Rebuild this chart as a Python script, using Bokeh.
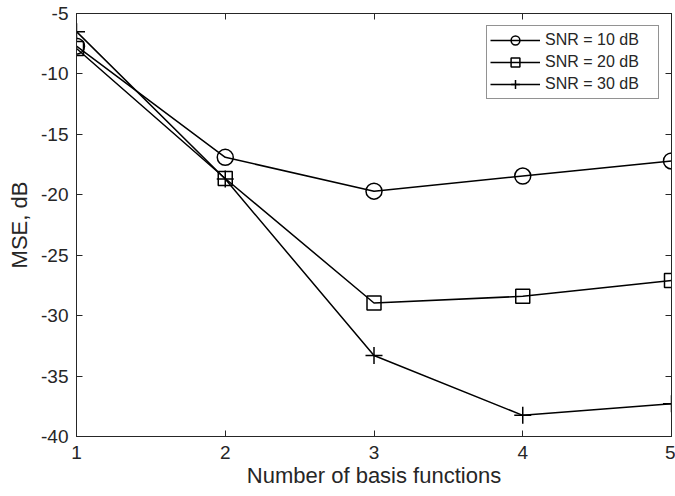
from bokeh.plotting import figure
from bokeh.models import Range1d, LinearAxis, FixedTicker, Legend
from bokeh.embed import file_html
from bokeh.resources import INLINE

# data
num_basis = [1, 2, 3, 4, 5]
snr10 = [-7.7, -16.9, -19.7, -18.45, -17.2]
snr20 = [-7.9, -18.65, -28.95, -28.4, -27.1]
snr30 = [-6.5, -18.7, -33.3, -38.25, -37.3]
labels = ["SNR = 10 dB", "SNR = 20 dB", "SNR = 30 dB"]
x_ticks = [1, 2, 3, 4, 5]
y_ticks = [-40, -35, -30, -25, -20, -15, -10, -5]
y_tick_labels = ["-40", "-35", "-30", "-25", "-20", "-15", "-10", "-5"]

AX = "#262626"
FONT = "Liberation Sans"

p = figure(width=675, height=496, output_backend="svg", toolbar_location=None,
           x_range=Range1d(1, 5), y_range=Range1d(-40, -5),
           min_border_left=76, min_border_right=4, min_border_top=13, min_border_bottom=60)
p.background_fill_color = "white"
p.border_fill_color = "white"
p.outline_line_color = AX
p.outline_line_width = 1
p.grid.visible = False

for ax in (p.xaxis[0], p.yaxis[0]):
    ax.major_tick_in = 6
    ax.major_tick_out = 0
    ax.minor_tick_in = 0
    ax.minor_tick_out = 0
    ax.axis_line_color = AX
    ax.major_tick_line_color = AX
    ax.major_label_text_color = AX
    ax.major_label_text_font = FONT
    ax.major_label_text_font_size = "19px"
    ax.axis_label_text_font = FONT
    ax.axis_label_text_font_size = "22px"
    ax.axis_label_text_font_style = "normal"
    ax.axis_label_text_color = AX

p.xaxis.ticker = FixedTicker(ticks=x_ticks)
p.yaxis.ticker = FixedTicker(ticks=y_ticks)
p.yaxis.major_label_overrides = {t: s for t, s in zip(y_ticks, y_tick_labels)}
p.xaxis.axis_label = "Number of basis functions"
p.yaxis.axis_label = "MSE, dB"
p.xaxis.major_label_standoff = 9
p.xaxis.axis_label_standoff = 1
p.yaxis.major_label_standoff = 8
p.yaxis.axis_label_standoff = 6

# mirrored tick axes (top and right), ticks only
top = LinearAxis(ticker=FixedTicker(ticks=x_ticks))
right = LinearAxis(ticker=FixedTicker(ticks=y_ticks))
top.major_label_overrides = {t: "" for t in x_ticks}
right.major_label_overrides = {t: "" for t in y_ticks}
for ax in (top, right):
    ax.major_tick_in = 6
    ax.major_tick_out = 0
    ax.minor_tick_in = 0
    ax.minor_tick_out = 0
    ax.axis_line_color = AX
    ax.major_tick_line_color = AX
    ax.major_label_text_font_size = "1px"
    ax.major_label_standoff = 0
p.add_layout(top, "above")
p.add_layout(right, "right")

r1 = p.line(num_basis, snr10, line_color="black", line_width=1.5)
m1 = p.scatter(num_basis, snr10, marker="circle", size=16, fill_color=None,
               line_color="black", line_width=1.5)
r2 = p.line(num_basis, snr20, line_color="black", line_width=1.5)
m2 = p.scatter(num_basis, snr20, marker="square", size=14, fill_color=None,
               line_color="black", line_width=1.5)
r3 = p.line(num_basis, snr30, line_color="black", line_width=1.5)
m3 = p.scatter(num_basis, snr30, marker="cross", size=17, fill_color=None,
               line_color="black", line_width=1.5)

legend = Legend(items=[(labels[0], [r1, m1]), (labels[1], [r2, m2]), (labels[2], [r3, m3])],
                location="top_right")
legend.margin = 12
legend.padding = 3
legend.spacing = 0
legend.glyph_width = 50
legend.glyph_height = 22
legend.label_height = 22
legend.label_width = 110
legend.label_standoff = 5
legend.label_text_font = FONT
legend.label_text_font_size = "16px"
legend.label_text_color = AX
legend.border_line_color = AX
legend.border_line_width = 1
legend.background_fill_color = "white"
legend.background_fill_alpha = 1
p.add_layout(legend)

open("out.html", "w").write(file_html(p, INLINE))
